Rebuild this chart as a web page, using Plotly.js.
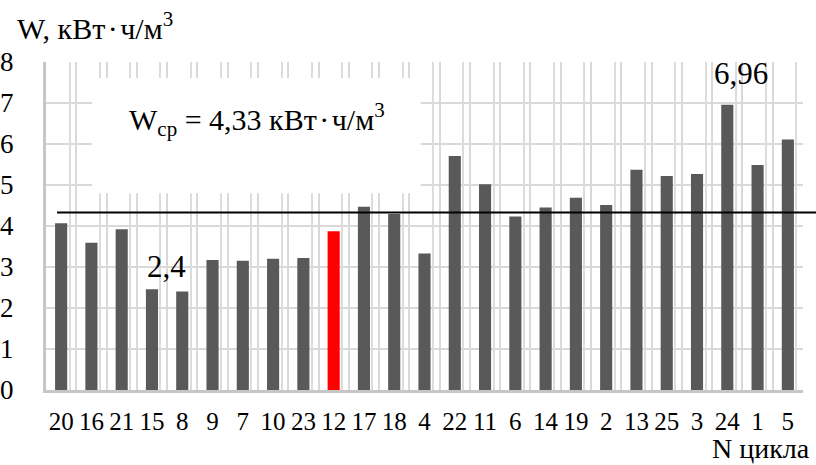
<!DOCTYPE html>
<html>
<head>
<meta charset="utf-8">
<script src="https://cdn.plot.ly/plotly-3.0.1.min.js"></script>
<style>html,body{margin:0;padding:0;background:#fff;}#chart{width:816px;height:465px;}</style>
</head>
<body>
<div id="chart"></div>
<script>
// ---- data ----
const cycles = ["20","16","21","15","8","9","7","10","23","12","17","18","4","22","11","6","14","19","2","13","25","3","24","1","5"];
const energy = [4.07,3.59,3.92,2.46,2.40,3.17,3.15,3.20,3.22,3.87,4.47,4.29,3.33,5.71,5.02,4.23,4.45,4.69,4.51,5.37,5.22,5.27,6.96,5.49,6.11];
const highlightCycle = "12";
const labelledCycles = ["8","24"];
const meanValue = 4.33;
const yTicks = [0,1,2,3,4,5,6,7,8];

const FONT = 'Liberation Serif, Times New Roman, serif';
const idx = cycles.map((c,i)=>i);
const colors = cycles.map(c => c === highlightCycle ? '#ff0000' : '#595959');
const fmt = v => String(v).replace('.', ',');

const bars = {
  type: 'bar', x: idx, y: energy, width: 0.4,
  marker: {color: colors, line: {width: 0}},
  hoverinfo: 'skip', showlegend: false
};
const dummy = {type:'scatter', x:[0], y:[0], xaxis:'x2', mode:'markers', opacity:0, hoverinfo:'skip', showlegend:false};

const labelAnn = labelledCycles.map(c => {
  const i = cycles.indexOf(c);
  return {
    x: i, y: energy[i], xref:'x', yref:'y', text: fmt(energy[i]), showarrow:false,
    yanchor:'bottom', xanchor:'center',
    xshift: c === "8" ? -16 : 14, yshift: c === "8" ? 6 : 12,
    font:{family:FONT, size:31, color:'#000'}
  };
});

const layout = {
  width: 816, height: 465,
  margin: {l:46, r:13, t:62, b:75, pad:0},
  paper_bgcolor:'#fff', plot_bgcolor:'#fff',
  font:{family:FONT, color:'#000'},
  showlegend:false,
  xaxis: {
    type:'linear', range:[-0.5, 24.5], tickmode:'array', tickvals: idx, ticktext: cycles,
    showgrid:false, zeroline:false, ticks:'', showline:true, linecolor:'#c6c6c6', linewidth:3,
    tickfont:{family:FONT, size:25, color:'#000'}, ticklabelstandoff:7,
    minor:{tickmode:'linear', tick0:-0.5, dtick:1, showgrid:true, gridcolor:'#d9d9d9', gridwidth:2, ticks:''}
  },
  xaxis2: {
    type:'linear', overlaying:'x', range:[-0.5, 24.5], tickmode:'linear', tick0:-0.72, dtick:1,
    showgrid:true, gridcolor:'#dcdcdc', gridwidth:2, showticklabels:false, ticks:'', zeroline:false, showline:false
  },
  yaxis: {
    range:[0,8], tickmode:'array', tickvals:yTicks, showgrid:true, gridcolor:'#d9d9d9', gridwidth:2,
    zeroline:false, showline:true, linecolor:'#c6c6c6', linewidth:3, ticks:'',
    tickfont:{family:FONT, size:27, color:'#000'}, ticklabelstandoff:24
  },
  shapes: [
    {type:'rect', xref:'paper', yref:'paper', x0:0.061, x1:0.495, y0:0.60, y1:0.951,
     fillcolor:'#ffffff', line:{width:0}, layer:'above'},
    {type:'line', xref:'paper', yref:'y', x0:0.0145, x1:1.02, y0:meanValue, y1:meanValue,
     line:{color:'#000', width:2}, layer:'above'}
  ],
  annotations: [
    {xref:'paper', yref:'paper', x:-0.041, y:1.11, xanchor:'left', yanchor:'middle', showarrow:false,
     text:'W, кВт\u200a·\u200aч/м<sup>3</sup>', font:{family:FONT, size:30, color:'#000'}},
    {xref:'paper', yref:'paper', x:0.279, y:0.825, xanchor:'center', yanchor:'middle', showarrow:false,
     text:'W<sub>ср</sub> = ' + fmt(meanValue) + ' кВт\u200a·\u200aч/м<sup>3</sup>', font:{family:FONT, size:30, color:'#000'}},
    {xref:'paper', yref:'paper', x:1.012, y:0, yshift:-58, xanchor:'right', yanchor:'middle', showarrow:false,
     text:'N цикла', font:{family:FONT, size:28, color:'#000'}},
    ...labelAnn
  ]
};

Plotly.newPlot('chart', [bars, dummy], layout, {staticPlot:true, displayModeBar:false});
</script>
</body>
</html>
